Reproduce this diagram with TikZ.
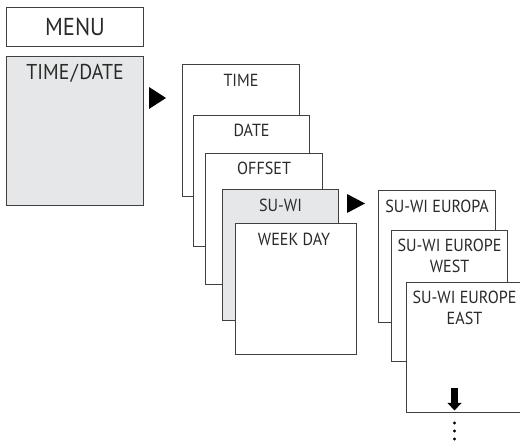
\documentclass[tikz,border=0pt]{standalone}
\usepackage{fontspec}
\setmainfont{PT Sans}[FakeStretch=0.92]
\definecolor{boxline}{HTML}{404040}
\definecolor{boxfill}{HTML}{E6E7E8}
\definecolor{txt}{HTML}{2A2A2A}
\tikzset{
  menubox/.style={draw=boxline, line width=1.1pt, fill=white, inner sep=0pt, anchor=north west},
  graybox/.style={menubox, fill=boxfill},
  lbl/.style={text=txt, inner sep=0pt, anchor=base, font=\fontsize{17.5}{21}\selectfont, align=center},
  biglbl/.style={lbl, font=\fontsize{21.5}{24}\selectfont},
}
\begin{document}
\begin{tikzpicture}[x=1pt, y=-1pt]
\useasboundingbox (0,0) rectangle (520,443);
% left column
\node[menubox, minimum width=137pt, minimum height=39pt] (menu) at (6,7) {};
\node[lbl, anchor=center, font=\fontsize{24.5}{26}\selectfont] (menut) at (menu.center) {MENU};
\node[graybox, minimum width=137pt, minimum height=149pt] (td) at (6,56) {};
\node[biglbl] (tdt) at ([yshift=-24pt]td.north) {TIME\kern1.5pt/\kern1.5pt DATE};
% arrow 1
\coordinate (a1) at (149,87);
\fill (a1) -- ++(0,22) -- ++(17,-11) -- cycle;
% middle stack
\node[menubox, minimum width=117pt, minimum height=132pt] (time) at (182,64) {};
\node[lbl] (timet) at ([yshift=-23pt]time.north) {TIME};
\node[menubox, minimum width=116pt, minimum height=131pt] (date) at (193,115) {};
\node[lbl] (datet) at ([yshift=-22pt]date.north) {DATE};
\node[menubox, minimum width=117pt, minimum height=131pt] (offset) at (205,153) {};
\node[lbl] (offsett) at ([yshift=-22pt]offset.north) {OFFSET};
\node[graybox, minimum width=116pt, minimum height=131pt] (suwi) at (222,189) {};
\node[lbl] (suwit) at ([yshift=-23pt]suwi.north) {SU-WI};
\node[menubox, minimum width=121pt, minimum height=131pt] (week) at (235,223) {};
\node[lbl] (weekt) at ([yshift=-23pt,xshift=-2pt]week.north) {WEEK DAY};
% arrow 2
\coordinate (a2) at (347,194);
\fill (a2) -- ++(0,19) -- ++(18,-9.5) -- cycle;
% right stack
\node[menubox, minimum width=117pt, minimum height=132pt] (europa) at (378,190) {};
\node[lbl] (europat) at ([yshift=-23pt]europa.north) {SU-WI EUROPA};
\node[menubox, minimum width=116pt, minimum height=131pt] (west) at (391,230) {};
\node[lbl] (westt) at ([yshift=-43pt]west.north) {SU-WI EUROPE\\WEST};
\begin{scope}
\clip (0,0) rectangle (520,443);
\node[menubox, minimum width=119pt, minimum height=130pt] (east) at (406,282) {};
\end{scope}
\node[lbl] (eastt) at (464.5,325) {SU-WI EUROPE\\EAST};
% down arrow and dots
\coordinate (d) at (454.5,388);
\fill ([xshift=-3.6pt]d) rectangle ([xshift=3.6pt,yshift=-15pt]d);
\fill ([xshift=-7pt,yshift=-15pt]d) -- ([xshift=7pt,yshift=-15pt]d) -- ([yshift=-22.5pt]d) -- cycle;
\foreach \yy in {423,431,439} \fill (454.5,\yy) circle (1.6pt);
\end{tikzpicture}
\end{document}
